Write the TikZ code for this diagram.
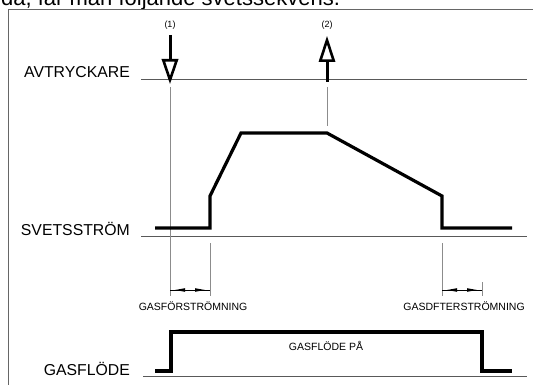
\documentclass[tikz,border=0pt]{standalone}
\usepackage{fontspec}
\setmainfont{Liberation Sans}
\begin{document}
\begin{tikzpicture}[x=1pt,y=-1pt,
  wave/.style={line width=3.2pt, line join=miter, line cap=butt},
  baseln/.style={draw=black!65, line width=0.8pt},
  vline/.style={draw=black!45, line width=0.8pt},
  framel/.style={draw=black!60, line width=0.8pt},
  lbl/.style={inner sep=0pt, font=\fontsize{15.8}{18}\selectfont, anchor=base east},
  small/.style={inner sep=0pt, font=\fontsize{10.5}{12}\selectfont, anchor=base},
  tiny/.style={inner sep=0pt, font=\fontsize{9}{10}\selectfont},
  evshaft/.style={line width=3pt},
  evhead/.style={line width=2.6pt, line join=miter, fill=white, draw=black},
  dimtip/.style={fill=black}]
\useasboundingbox (0,0) rectangle (533,385);
\clip (0,0) rectangle (533,385);
\fill[white] (0,0) rectangle (533,385);

% cut-off text at the top
\node[inner sep=0pt, anchor=base west, font=\fontsize{22}{26}\selectfont] (intro) at (1,6) {då, får man följande svetssekvens.};

% frame
\draw[framel] (8,400) -- (8,9) -- (540,9);

% row labels
\node[lbl] (avt) at (130,78) {AVTRYCKARE};
\node[lbl] (svets) at (130,235) {SVETSSTRÖM};
\node[lbl] (gasl) at (130,375) {GASFLÖDE};

% baselines
\coordinate (a0) at (141,79);  \coordinate (a1) at (527,79);
\coordinate (s0) at (141,236); \coordinate (s1) at (527,236);
\coordinate (g0) at (143,376); \coordinate (g1) at (527,376);
\draw[baseln] (a0) -- (a1);
\draw[baseln] (s0) -- (s1);
\draw[baseln] (g0) -- (g1);

% event (1): press
\node[tiny] (e1) at (170,25) {(1)};
\draw[evshaft] (170,35) -- (170,61);
\draw[evhead] (163.3,60.3) -- (176.7,60.3) -- (170,79.9) -- cycle;
% event (2): release
\node[tiny] (e2) at (327,25) {(2)};
\draw[evshaft] (327,60) -- (327,82);
\draw[evhead] (320.3,60.7) -- (333.7,60.7) -- (327,40.2) -- cycle;

% thin guide lines
\coordinate (v1a) at (170,87);  \coordinate (v1b) at (170,296);
\coordinate (v2a) at (327,87);  \coordinate (v2b) at (327,126);
\coordinate (v3a) at (210,243); \coordinate (v3b) at (210,296);
\coordinate (v4a) at (442,243); \coordinate (v4b) at (442,296);
\coordinate (v5a) at (482,282); \coordinate (v5b) at (482,296);
\draw[vline] (v1a) -- (v1b);
\draw[vline] (v2a) -- (v2b);
\draw[vline] (v3a) -- (v3b);
\draw[vline] (v4a) -- (v4b);
\draw[vline] (v5a) -- (v5b);

% dimension marks
\coordinate (d1a) at (170,290); \coordinate (d1b) at (210,290);
\coordinate (d2a) at (442,290); \coordinate (d2b) at (482,290);
\draw[line width=0.8pt] (d1a) -- (d1b);
\draw[line width=0.8pt] (d2a) -- (d2b);
\fill[dimtip] (175,290) -- (185,288.2) -- (185,291.8) -- cycle;
\fill[dimtip] (205,290) -- (195,288.2) -- (195,291.8) -- cycle;
\fill[dimtip] (447,290) -- (457,288.2) -- (457,291.8) -- cycle;
\fill[dimtip] (477,290) -- (467,288.2) -- (467,291.8) -- cycle;

\node[small] (pre) at (193,310) {GASFÖRSTRÖMNING};
\node[small] (post) at (464,310) {GASDFTERSTRÖMNING};

% welding current
\draw[wave] (155,228) -- (210,228) -- (210,196) -- (241,133) -- (327,133)
  -- (442,196) -- (442,228) -- (512,228);

% gas flow
\draw[wave] (155,371) -- (171,371) -- (171,332) -- (482,332) -- (482,371) -- (512,371);
\node[small] (gon) at (326,350) {GASFLÖDE PÅ};
\end{tikzpicture}
\end{document}
